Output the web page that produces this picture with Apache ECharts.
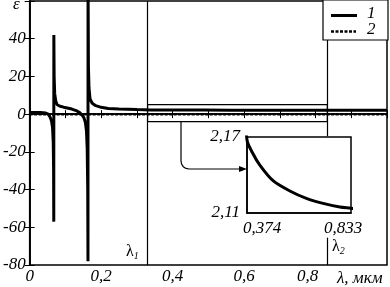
<!DOCTYPE html>
<html><head><meta charset="utf-8">
<script src="https://cdn.jsdelivr.net/npm/echarts@6/dist/echarts.min.js"></script>
<style>html,body{margin:0;padding:0;background:#fff}#c{width:390px;height:287px}</style>
</head><body><div id="c"></div>
<script>
// Curve 1: epsilon(lambda)
const lam1 = [0.000,0.030,0.045,0.052,0.057,0.061,0.064,0.066,0.067,0.0675,0.0677,0.0685,0.070,0.073,0.077,0.085,0.095,0.105,0.118,0.130,0.140,0.147,0.152,0.156,0.159,0.161,0.1625,0.1632,0.1634,0.1645,0.166,0.169,0.175,0.185,0.200,0.220,0.250,0.300,0.340,0.374,0.400,0.430,0.489,0.563,0.636,0.710,0.784,0.833,0.900,1.000];
const eps1 = [0.9,0.9,0.6,0.0,-1.5,-3.5,-7,-15,-30,-57,42,20,11,7,5,4.2,3.7,3.3,2.7,1.9,0.8,-0.6,-2,-4.5,-9,-18,-40,-78,70,25,14,8,5.8,4.5,3.6,3.0,2.7,2.4,2.25,2.1676,2.157,2.148,2.1355,2.1274,2.1216,2.1176,2.1147,2.1137,2.112,2.110];
// Curve 2 (dotted)
const lam2 = [0, 1];
const eps2 = [0, 0];
// Axis ticks / labels
const xLabelVals = [0, 0.2, 0.4, 0.6, 0.8];
const xLabelText = ['0', '0,2', '0,4', '0,6', '0,8'];
const yLabelVals = [-80, -60, -40, -20, 0, 20, 40];
const insetX = [0.374, 0.833];
const insetXText = ['0,374', '0,833'];
const insetY = [2.11, 2.17];
const insetYText = ['2,11', '2,17'];
const lambda1 = 0.33, lambda2 = 0.833;
const zoomBox = [-4, 5];

const FONT = 'Liberation Serif';
const lbl = {fontFamily: FONT, fontStyle: 'italic', fontSize: 17, color: '#000'};
const pts1 = lam1.map((x, i) => [x, eps1[i]]);
const pts2 = lam2.map((x, i) => [x, eps2[i]]);

const chart = echarts.init(document.getElementById('c'), null, {renderer: 'canvas'});
chart.setOption({
  animation: false,
  backgroundColor: '#fff',
  grid: [
    {left: 29, right: 2, top: 1, bottom: 22, show: true, borderColor: '#000', borderWidth: 1.5, backgroundColor: 'transparent'},
    {left: 247, top: 137, width: 104, height: 76, show: true, borderColor: '#000', borderWidth: 1.5, backgroundColor: '#fff', z: 10}
  ],
  xAxis: [
    {gridIndex: 0, type: 'value', min: 0, max: 1, interval: 0.1, position: 'bottom',
     axisLine: {show: true, lineStyle: {color: '#000', width: 1.5}},
     axisTick: {show: true, inside: true, length: 4, lineStyle: {color: '#000'}},
     splitLine: {show: false},
     axisLabel: Object.assign({}, lbl, {margin: 3,
       formatter: v => { const i = xLabelVals.findIndex(a => Math.abs(a - v) < 1e-6); if (i < 0) return ''; return i === 4 ? '{s|' + xLabelText[i] + '}' : xLabelText[i]; },
       rich: {s: {fontFamily: FONT, fontStyle: 'italic', fontSize: 17, color: '#000', padding: [0, 16, 0, 0]}}})},
    {gridIndex: 0, type: 'value', min: 0, max: 1, interval: 0.1, position: 'top',
     axisLine: {show: true, lineStyle: {color: '#000', width: 1.5}},
     axisTick: {show: true, inside: true, length: 4, lineStyle: {color: '#000'}},
     splitLine: {show: false}, axisLabel: {show: false}},
    {gridIndex: 1, type: 'value', min: 0.374, max: 0.833, z: 10,
     axisLine: {show: true, lineStyle: {color: '#000', width: 1.5}},
     axisTick: {show: false}, splitLine: {show: false},
     axisLabel: Object.assign({}, lbl, {margin: 7, customValues: insetX,
       formatter: v => { const i = insetX.findIndex(a => Math.abs(a - v) < 1e-6); return i < 0 ? '' : '{s' + i + '|' + insetXText[i] + '}'; },
       rich: {s0: {fontFamily: FONT, fontStyle: 'italic', fontSize: 17, color: '#000', padding: [0, 0, 0, 30]},
              s1: {fontFamily: FONT, fontStyle: 'italic', fontSize: 17, color: '#000', padding: [0, 16, 0, 0]}}})}
  ],
  yAxis: [
    {gridIndex: 0, type: 'value', min: -80, max: 60, interval: 20, position: 'left',
     axisLine: {show: true, lineStyle: {color: '#000', width: 1.5}},
     axisTick: {show: true, inside: true, length: 5, lineStyle: {color: '#000'}},
     splitLine: {show: false},
     axisLabel: Object.assign({}, lbl, {margin: 4,
       formatter: v => yLabelVals.indexOf(v) < 0 ? '' : String(v)})},
    {gridIndex: 0, type: 'value', min: -80, max: 60, interval: 20, position: 'right',
     axisLine: {show: true, lineStyle: {color: '#000', width: 1.5}},
     axisTick: {show: true, inside: true, length: 5, lineStyle: {color: '#000'}},
     splitLine: {show: false}, axisLabel: {show: false}},
    {gridIndex: 1, type: 'value', min: 2.11, max: 2.17, z: 10,
     axisLine: {show: true, lineStyle: {color: '#000', width: 1.5}},
     axisTick: {show: false}, splitLine: {show: false},
     axisLabel: Object.assign({}, lbl, {margin: 7, customValues: insetY,
       formatter: v => { const i = insetY.findIndex(a => Math.abs(a - v) < 1e-6); return i < 0 ? '' : insetYText[i]; }})}
  ],
  series: [
    {type: 'line', xAxisIndex: 0, yAxisIndex: 0, data: pts1, showSymbol: false, clip: true,
     lineStyle: {color: '#000', width: 3}, z: 3,
     markLine: {silent: true, symbol: 'none', label: {show: false}, lineStyle: {color: '#000', width: 1.2, type: 'solid'},
       data: [
         [{coord: [lambda1, 60]}, {coord: [lambda1, -80]}],
         [{coord: [lambda2, 60]}, {coord: [lambda2, -11.7]}],
         [{coord: [lambda2, -65.5]}, {coord: [lambda2, -80]}]
       ]},
     markArea: {silent: true, itemStyle: {color: 'rgba(0,0,0,0)', borderColor: '#000', borderWidth: 1.2},
       data: [[{coord: [lambda1, zoomBox[1]]}, {coord: [lambda2, zoomBox[0]]}]]}},
    {type: 'line', xAxisIndex: 0, yAxisIndex: 0, data: pts2, showSymbol: false,
     lineStyle: {color: '#000', width: 2.5, type: [3, 1.5]}, z: 2},
    {type: 'line', xAxisIndex: 2, yAxisIndex: 2, data: pts1, showSymbol: false, clip: true, smooth: 0.3,
     lineStyle: {color: '#000', width: 3}, z: 12}
  ],
  graphic: [
    {type: 'text', x: 13, y: -4, style: {text: 'ε', font: 'italic 17px "Liberation Serif"', fill: '#000'}},
    {type: 'text', x: 337, y: 270, style: {text: 'λ, мкм', font: 'italic 17px "Liberation Serif"', fill: '#000'}},
    {type: 'text', x: 126, y: 243, style: {text: '{l|λ}{s|1}', rich: {
      l: {fontFamily: FONT, fontSize: 16, fill: '#000'},
      s: {fontFamily: FONT, fontStyle: 'italic', fontSize: 10, fill: '#000', padding: [8, 0, 0, 0]}}}},
    {type: 'text', x: 332, y: 238, style: {text: '{l|λ}{s|2}', rich: {
      l: {fontFamily: FONT, fontSize: 16, fill: '#000'},
      s: {fontFamily: FONT, fontStyle: 'italic', fontSize: 10, fill: '#000', padding: [8, 0, 0, 0]}}}},
    // legend
    {type: 'rect', shape: {x: 323, y: 0, width: 65, height: 40}, style: {fill: '#fff', stroke: '#000', lineWidth: 1.2}, z: 20},
    {type: 'line', shape: {x1: 331, y1: 15.5, x2: 357, y2: 15.5}, style: {stroke: '#000', lineWidth: 3}, z: 21},
    {type: 'line', shape: {x1: 331, y1: 31.5, x2: 356, y2: 31.5}, style: {stroke: '#000', lineWidth: 2.5, lineDash: [3, 1.5]}, z: 21},
    {type: 'text', x: 367, y: 5, style: {text: '1', font: 'italic 17px "Liberation Serif"', fill: '#000'}, z: 21},
    {type: 'text', x: 367, y: 21, style: {text: '2', font: 'italic 17px "Liberation Serif"', fill: '#000'}, z: 21},
    // arrow
    {type: 'polyline', shape: {points: [[181, 121], [181, 161], [181.6, 164.1], [183.3, 166.7], [185.9, 168.4], [189, 169], [241, 169]]}, style: {stroke: '#000', lineWidth: 1.2, fill: null}, z: 20},
    {type: 'polygon', shape: {points: [[239, 166], [247, 169], [239, 172]]}, style: {fill: '#000'}, z: 20}
  ]
});
</script></body></html>
